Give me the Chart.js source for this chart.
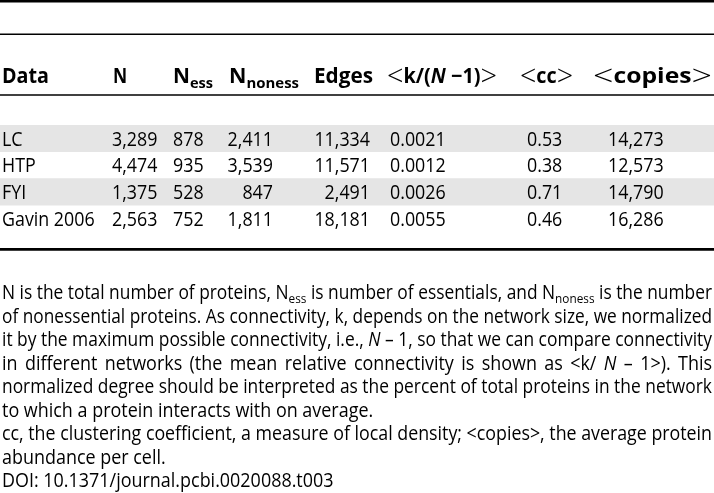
<!DOCTYPE html>
<html>
<head>
<meta charset="utf-8">
<script src="https://cdn.jsdelivr.net/npm/chart.js@4/dist/chart.umd.min.js"></script>
<style>
html,body{margin:0;padding:0;background:#fff;}
canvas{display:block;}
</style>
</head>
<body>
<canvas id="c" width="714" height="493"></canvas>
<script>
// ---- data ----
const rows = ['LC', 'HTP', 'FYI', 'Gavin 2006'];
const proteins = [3289, 4474, 1375, 2563];
const essentials = [878, 935, 528, 752];
const nonessentials = [2411, 3539, 847, 1811];
const edges = [11334, 11571, 2491, 18181];
const relConnectivity = [0.0021, 0.0012, 0.0026, 0.0055];
const clustering = [0.53, 0.38, 0.71, 0.46];
const copies = [14273, 12573, 14790, 16286];
const shadedRows = ['LC', 'FYI'];

const fmtInt = v => v.toLocaleString('en-US');
const columnValues = [
  rows,
  proteins.map(fmtInt),
  essentials.map(fmtInt),
  nonessentials.map(fmtInt),
  edges.map(fmtInt),
  relConnectivity.map(v => v.toFixed(4)),
  clustering.map(v => v.toFixed(2)),
  copies.map(fmtInt)
];

// header labels (rich text runs)
const headerLabels = [
  [{t: 'Data'}],
  [{t: 'N'}],
  [{t: 'N'}, {t: 'ess', sub: true}],
  [{t: 'N'}, {t: 'noness', sub: true}],
  [{t: 'Edges'}],
  [{t: '<', sym: true}, {t: 'k/('}, {t: 'N', i: true}, {t: ' \u22121)'}, {t: '>', sym: true}],
  [{t: '<', sym: true}, {t: 'cc'}, {t: '>', sym: true}],
  [{t: '<', sym: true}, {t: 'copies'}, {t: '>', sym: true}]
];

// footnote text
const footnoteLines = [
  {j: true, runs: [{t: 'N is the total number of proteins, N'}, {t: 'ess', sub: true}, {t: ' is number of essentials, and N'}, {t: 'noness', sub: true}, {t: ' is the number'}]},
  {j: true, runs: [{t: 'of nonessential proteins. As connectivity, k, depends on the network size, we normalized'}]},
  {j: true, runs: [{t: 'it by the maximum possible connectivity, i.e., '}, {t: 'N', i: true}, {t: ' \u2013 1, so that we can compare connectivity'}]},
  {j: true, runs: [{t: 'in different networks (the mean relative connectivity is shown as <k/ '}, {t: 'N', i: true}, {t: ' \u2013 1>). This'}]},
  {j: true, runs: [{t: 'normalized degree should be interpreted as the percent of total proteins in the network'}]},
  {j: false, runs: [{t: 'to which a protein interacts with on average.'}]},
  {j: true, runs: [{t: 'cc, the clustering coefficient, a measure of local density; <copies>, the average protein'}]},
  {j: false, runs: [{t: 'abundance per cell.'}]},
  {j: false, runs: [{t: 'DOI: 10.1371/journal.pcbi.0020088.t003'}]}
];

// ---- layout (positions in units of the x scale) ----
const W = 714;
const colLayout = [
  {head: 2, headEnd: 49, cell: 2, align: 'left'},
  {head: 113, headEnd: 127, cell: 112, align: 'left'},
  {head: 173, headEnd: 213, cell: 173, align: 'left'},
  {head: 229, headEnd: 299, cell: 273, align: 'right'},
  {head: 314, headEnd: 373, cell: 370, align: 'right'},
  {head: 387, headEnd: 497, cell: 390, align: 'left'},
  {head: 520, headEnd: 573, cell: 527, align: 'left'},
  {head: 593, headEnd: 712, cell: 608, align: 'left'}
];
const FAMILY = '"Open Sans", "Noto Sans", sans-serif';
const headStyle = {size: 20.5, weight: 700, sx: 1.0, subSize: 0.7, subDy: 5, symSize: 1.45, symDy: 3};
const cellStyle = {size: 20.5, weight: 500, sx: 0.87};
const noteStyle = {size: 19.5, weight: 500, sx: 0.92, subSize: 0.68, subDy: 4};

function runFont(r, st) {
  let size = st.size;
  if (r.sub) size = st.size * st.subSize;
  if (r.sym) size = st.size * st.symSize;
  const weight = r.sym ? 300 : (r.w || st.weight);
  return (r.i ? 'italic ' : 'normal ') + weight + ' ' + size + 'px ' + FAMILY;
}
function measureRuns(ctx, runs, st, sx) {
  let w = 0;
  for (const r of runs) { ctx.font = runFont(r, st); w += ctx.measureText(r.t).width; }
  return w * (sx === undefined ? st.sx : sx);
}
function drawRuns(ctx, runs, x, y, st, sx) {
  const s = sx === undefined ? st.sx : sx;
  ctx.save();
  ctx.translate(x, y);
  ctx.scale(s, 1);
  let cx = 0;
  for (const r of runs) {
    ctx.font = runFont(r, st);
    const dy = r.sub ? st.subDy : (r.sym ? st.symDy : 0);
    ctx.fillText(r.t, cx, dy);
    cx += ctx.measureText(r.t).width;
  }
  ctx.restore();
  return cx * s;
}
function tokenize(runs) {
  const words = [[]];
  for (const r of runs) {
    const parts = r.t.split(' ');
    parts.forEach((p, k) => {
      if (k > 0) words.push([]);
      if (p.length) words[words.length - 1].push(Object.assign({}, r, {t: p}));
    });
  }
  return words.filter(w => w.length);
}

const tablePlugin = {
  id: 'tableText',
  beforeDraw(chart) {
    const ctx = chart.ctx;
    ctx.save();
    ctx.fillStyle = '#fff';
    ctx.fillRect(0, 0, chart.width, chart.height);
    ctx.restore();
  },
  afterDatasetsDraw(chart) {
    const ctx = chart.ctx;
    const xs = chart.scales.x, ys = chart.scales.y;
    const px = v => xs.getPixelForValue(v);
    ctx.save();
    ctx.fillStyle = '#000';
    ctx.strokeStyle = '#000';
    ctx.textBaseline = 'alphabetic';
    // rules
    const rule = (y, lw) => { ctx.lineWidth = lw; ctx.beginPath(); ctx.moveTo(px(0), y); ctx.lineTo(px(W), y); ctx.stroke(); };
    rule(1.2, 2.4);
    rule(34.2, 1.4);
    rule(95, 1.6);
    rule(249.4, 2.6);
    // header: each label fitted between its column edges
    headerLabels.forEach((runs, c) => {
      const x0 = px(colLayout[c].head), x1 = px(colLayout[c].headEnd);
      const nat = measureRuns(ctx, runs, headStyle, 1);
      const s = Math.max(0.85, Math.min(1.3, (x1 - x0) / nat));
      drawRuns(ctx, runs, x0, 82.5, headStyle, s);
    });
    // cells
    const capHalf = 7.2;
    columnValues.forEach((vals, c) => {
      vals.forEach((txt, r) => {
        const y = ys.getPixelForValue(r) + capHalf;
        const runs = [{t: txt}];
        let x = px(colLayout[c].cell);
        if (colLayout[c].align === 'right') x -= measureRuns(ctx, runs, cellStyle);
        drawRuns(ctx, runs, x, y, cellStyle);
      });
    });
    // footnote
    const left = px(2), right = px(712);
    footnoteLines.forEach((line, k) => {
      const y = 299 + k * 23.5;
      const words = tokenize(line.runs);
      let sx = noteStyle.sx;
      ctx.font = runFont({}, noteStyle);
      const spaceRaw = ctx.measureText(' ').width;
      let widths = words.map(w => measureRuns(ctx, w, noteStyle, sx));
      let sum = widths.reduce((a, b) => a + b, 0);
      let gap = spaceRaw * sx;
      if (line.j && words.length > 1) {
        const natural = sum + gap * (words.length - 1);
        if (natural > right - left) {
          sx = sx * (right - left) / natural;
          widths = words.map(w => measureRuns(ctx, w, noteStyle, sx));
          sum = widths.reduce((a, b) => a + b, 0);
        }
        gap = (right - left - sum) / (words.length - 1);
      }
      let x = left;
      words.forEach((w, i) => { drawRuns(ctx, w, x, y, noteStyle, sx); x += widths[i] + gap; });
    });
    ctx.restore();
  }
};

new Chart(document.getElementById('c'), {
  type: 'bar',
  data: {
    labels: rows,
    datasets: [{
      label: 'shading',
      data: rows.map(r => shadedRows.includes(r) ? [0, W] : null),
      backgroundColor: '#e5e5e5',
      borderWidth: 0,
      barPercentage: 1,
      categoryPercentage: 1
    }]
  },
  options: {
    indexAxis: 'y',
    responsive: false,
    animation: false,
    devicePixelRatio: 1,
    layout: {padding: {top: 125, bottom: 261, left: 0, right: 0}},
    plugins: {legend: {display: false}, tooltip: {enabled: false}, title: {display: false}},
    scales: {
      x: {type: 'linear', min: 0, max: W, display: false},
      y: {type: 'category', display: false, offset: true}
    }
  },
  plugins: [tablePlugin]
});
</script>
</body>
</html>
